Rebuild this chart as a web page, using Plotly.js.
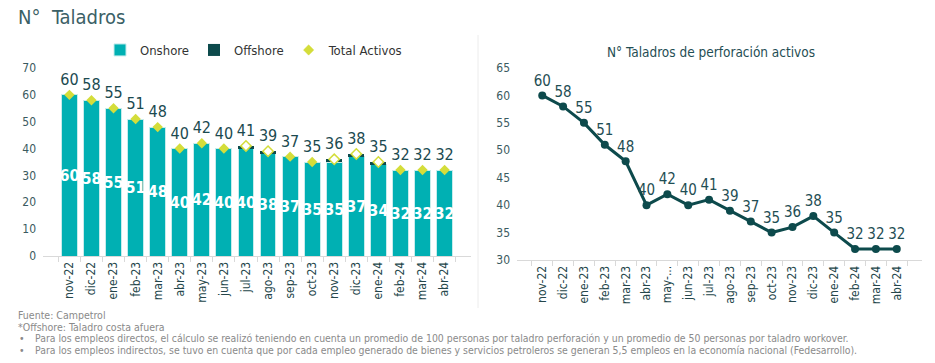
<!DOCTYPE html>
<html>
<head>
<meta charset="utf-8">
<script src="https://cdn.plot.ly/plotly-3.0.1.min.js"></script>
<style>html,body{margin:0;padding:0;background:#fff}#chart{width:935px;height:363px}</style>
</head>
<body>
<div id="chart"></div>
<script>
// ---- data ----
var months = ["nov-22","dic-22","ene-23","feb-23","mar-23","abr-23","may-23","jun-23","jul-23","ago-23","sep-23","oct-23","nov-23","dic-23","ene-24","feb-24","mar-24","abr-24"];
var monthsRight = ["nov-22","dic-22","ene-23","feb-23","mar-23","abr-23","may-...","jun-23","jul-23","ago-23","sep-23","oct-23","nov-23","dic-23","ene-24","feb-24","mar-24","abr-24"];
var onshore  = [60,58,55,51,48,40,42,40,40,38,37,35,35,37,34,32,32,32];
var offshore = [0,0,0,0,0,0,0,0,1,1,0,0,1,1,1,0,0,0];
var totalActivos = [60,58,55,51,48,40,42,40,41,39,37,35,36,38,35,32,32,32];
var perforacion = [60,58,55,51,48,40,42,40,41,39,37,35,36,38,35,32,32,32];

var FONT = "DejaVu Sans Condensed, Open Sans, sans-serif";
var W = 935, H = 363;
function px(x){return x/W;}
function py(y){return 1 - y/H;}

var traces = [
  {type:"bar", name:"Onshore", x:months, y:onshore, xaxis:"x", yaxis:"y",
   marker:{color:"#00b0b3", line:{color:"#c6ecec", width:1}},
   text:onshore.map(String), textposition:"inside", insidetextanchor:"middle",
   textangle:0, constraintext:"none",
   textfont:{family:FONT, size:16, color:"#ffffff", weight:"bold"}, hoverinfo:"skip"},
  {type:"bar", name:"Offshore", x:months, y:offshore, xaxis:"x", yaxis:"y",
   marker:{color:"#0d4a4c", line:{color:"#c6ecec", width:0}}, hoverinfo:"skip"},
  {type:"scatter", mode:"markers+text", name:"Total Activos", x:months, y:totalActivos, xaxis:"x", yaxis:"y",
   marker:{symbol:"diamond", size:8, color:offshore.map(function(v){return v>0?"#ffffff":"#d4dd3a";}),
           line:{color:"#d4dd3a", width:offshore.map(function(v){return v>0?1.5:0;})}},
   text:totalActivos.map(String), textposition:"top center",
   textfont:{family:FONT, size:16, color:"#1b4a50"}, cliponaxis:false, hoverinfo:"skip"},
  {type:"scatter", mode:"lines+markers+text", name:"Perforación", showlegend:false,
   x:monthsRight, y:perforacion, xaxis:"x2", yaxis:"y2",
   line:{color:"#0d4a4c", width:3}, marker:{color:"#0d4a4c", size:8},
   text:perforacion.map(String), textposition:"top center",
   textfont:{family:FONT, size:15, color:"#1f4e54"}, cliponaxis:false, hoverinfo:"skip"}
];

var axisX = {type:"category", showgrid:false, zeroline:false, showline:true, linecolor:"#d9d9d9", linewidth:1,
  ticks:"outside", tickson:"boundaries", ticklen:5, tickcolor:"#d9d9d9", tickangle:-90,
  tickfont:{family:FONT, size:12, color:"#24464a"}, fixedrange:true};

var layout = {
  width:W, height:H, margin:{l:0,r:0,t:0,b:0}, paper_bgcolor:"#fff", plot_bgcolor:"#fff",
  barmode:"stack", bargap:0.28, showlegend:true,
  font:{family:FONT, color:"#333"},
  legend:{orientation:"h", traceorder:"normal", x:px(254), xanchor:"center", y:py(50), yanchor:"middle",
          font:{family:FONT, size:13, color:"#333333"}, itemwidth:30, tracegroupgap:0, bgcolor:"rgba(0,0,0,0)"},
  xaxis:Object.assign({}, axisX, {domain:[px(43), px(471)], anchor:"y"}),
  yaxis:{domain:[py(256), py(68)], range:[0,70], dtick:10, showgrid:false, zeroline:false, showline:false,
         ticks:"", tickfont:{family:FONT, size:12, color:"#3a5a60"}, ticklabelstandoff:6, anchor:"x", fixedrange:true},
  xaxis2:Object.assign({}, axisX, {domain:[px(517), px(922)], anchor:"y2"}),
  yaxis2:{domain:[py(260), py(68)], range:[30,65], dtick:5, showgrid:false, zeroline:false, showline:false,
         ticks:"", tickfont:{family:FONT, size:12, color:"#3a5a60"}, ticklabelstandoff:6, anchor:"x2", fixedrange:true},
  shapes:[{type:"line", xref:"paper", yref:"paper", x0:px(478), x1:px(478), y0:py(308), y1:py(35),
           line:{color:"#ececec", width:1}}],
  annotations:[
    {text:"N°  Taladros", xref:"paper", yref:"paper", x:px(16), y:py(17), xanchor:"left", yanchor:"middle",
     showarrow:false, font:{family:FONT, size:20, color:"#3b6066"}},
    {text:"N° Taladros de perforación activos", xref:"paper", yref:"paper", x:px(711), y:py(52), xanchor:"center", yanchor:"middle",
     showarrow:false, font:{family:FONT, size:13.5, color:"#1f4e54"}},
    {text:"Fuente: Campetrol", xref:"paper", yref:"paper", x:px(16), y:py(315), xanchor:"left", yanchor:"middle",
     showarrow:false, font:{family:FONT, size:10.5, color:"#8a8a8a"}},
    {text:"*Offshore: Taladro costa afuera", xref:"paper", yref:"paper", x:px(16), y:py(327), xanchor:"left", yanchor:"middle",
     showarrow:false, font:{family:FONT, size:10.5, color:"#8a8a8a"}},
    {text:"•", xref:"paper", yref:"paper", x:px(17), y:py(338), xanchor:"left", yanchor:"middle",
     showarrow:false, font:{family:FONT, size:10.5, color:"#8a8a8a"}},
    {text:"Para los empleos directos, el cálculo se realizó teniendo en cuenta un promedio de 100 personas por taladro perforación y un promedio de 50 personas por taladro workover.", xref:"paper", yref:"paper", x:px(33), y:py(338), xanchor:"left", yanchor:"middle",
     showarrow:false, font:{family:FONT, size:10.4, color:"#8a8a8a"}},
    {text:"•", xref:"paper", yref:"paper", x:px(17), y:py(350), xanchor:"left", yanchor:"middle",
     showarrow:false, font:{family:FONT, size:10.5, color:"#8a8a8a"}},
    {text:"Para los empleos indirectos, se tuvo en cuenta que por cada empleo generado de bienes y servicios petroleros se generan 5,5 empleos en la economía nacional (Fedesarrollo).", xref:"paper", yref:"paper", x:px(33), y:py(350), xanchor:"left", yanchor:"middle",
     showarrow:false, font:{family:FONT, size:10.4, color:"#8a8a8a"}}
  ]
};

Plotly.newPlot("chart", traces, layout, {displayModeBar:false, staticPlot:true});
</script>
</body>
</html>
